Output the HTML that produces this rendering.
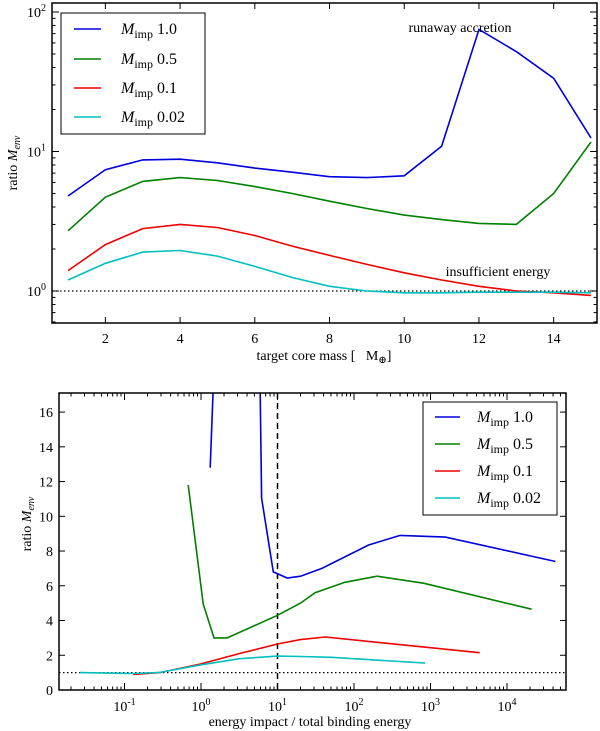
<!DOCTYPE html>
<html><head><meta charset="utf-8"><style>
html,body{margin:0;padding:0;background:#fff;}
svg{display:block;font-family:"Liberation Serif","DejaVu Serif",serif;}
</style></head><body>
<svg id="fig" width="600" height="731" viewBox="0 0 600 731" xmlns="http://www.w3.org/2000/svg"></svg>
<script>
// ---- Top chart data ----
const coreMass = [1,2,3,4,5,6,7,8,9,10,11,12,13,14,15];
const topBlue  = [4.8,7.4,8.7,8.8,8.3,7.6,7.1,6.6,6.5,6.7,10.9,75,52,33.5,12.5];
const topGreen = [2.7,4.7,6.1,6.5,6.2,5.6,5.0,4.4,3.9,3.5,3.25,3.05,3.0,5.0,11.7];
const topRed   = [1.4,2.15,2.8,3.0,2.85,2.5,2.1,1.8,1.55,1.35,1.2,1.08,1.0,0.97,0.93];
const topCyan  = [1.2,1.58,1.9,1.95,1.78,1.5,1.25,1.08,1.0,0.97,0.97,0.98,0.98,0.98,0.97];
const topXTicks = [2,4,6,8,10,12,14];
// ---- Bottom chart data ----
const blueSeg1E = [1.32,1.45];
const blueSeg1V = [12.8,17.5];
const blueE = [5.9,6.2,8.8,13.4,20,38,155,400,1560,43000];
const blueV = [18,11.05,6.8,6.45,6.55,7.0,8.35,8.9,8.8,7.4];
const greenE = [0.68,1.07,1.48,2.2,10,20,31,76,200,810,21000];
const greenV = [11.8,4.95,3.0,3.0,4.3,5.0,5.6,6.2,6.55,6.15,4.65];
const redE = [0.13,0.29,1,3.2,10,20,42,4400];
const redV = [0.9,1.0,1.5,2.1,2.65,2.9,3.05,2.15];
const cyanE = [0.026,0.13,0.28,1,3.2,10,20,50,850];
const cyanV = [1.0,0.95,1.0,1.45,1.8,1.95,1.93,1.88,1.55];
const botYTicks = [0,2,4,6,8,10,12,14,16];
const botXExps = [-1,0,1,2,3,4];
const legendLabels = ["1.0","0.5","0.1","0.02"];
const colors = ["#0000dd","#008000","#ee0000","#00bfbf"];

const NS="http://www.w3.org/2000/svg";
const svg=document.getElementById('fig');
function el(tag,attrs,parent){const e=document.createElementNS(NS,tag);for(const k in attrs)e.setAttribute(k,attrs[k]);(parent||svg).appendChild(e);return e;}

const T={l:52,r:597,t:3,b:323};
const tx=v=>68+(v-1)*37.36;
const ty=v=>291-Math.log10(v)*139.5;
const B={l:59,r:566,t:393,b:690};
const bx=e=>201+Math.log10(e)*76.5;
const by=v=>690-v*17.37;

function clip(id,A){const c=el('clipPath',{id:id});el('rect',{x:A.l,y:A.t,width:A.r-A.l,height:A.b-A.t},c);}
clip('ct',T);clip('cb',B);

function poly(xs,ys,fx,fy,col,clipId,name){
  const p=el('polyline',{points:xs.map((x,i)=>fx(x).toFixed(1)+','+fy(ys[i]).toFixed(1)).join(' '),fill:'none',stroke:col,'stroke-width':1.6,'clip-path':'url(#'+clipId+')'});
  
  
}
function line(x1,y1,x2,y2,extra){return el('line',Object.assign({x1,y1,x2,y2,stroke:'#000','stroke-width':1},extra||{}));}
function text(x,y,s,extra){const t=el('text',Object.assign({x,y,'font-size':14,fill:'#000'},extra||{}));t.textContent=s;return t;}

// ---- top chart ----
line(T.l,ty(1),T.r,ty(1),{'stroke-dasharray':'1.5,2.5','stroke-width':1.2});
poly(coreMass,topBlue,tx,ty,colors[0],'ct','top-series-mimp-1.0');
poly(coreMass,topGreen,tx,ty,colors[1],'ct','top-series-mimp-0.5');
poly(coreMass,topRed,tx,ty,colors[2],'ct','top-series-mimp-0.1');
poly(coreMass,topCyan,tx,ty,colors[3],'ct','top-series-mimp-0.02');
topXTicks.forEach(v=>{const x=tx(v);line(x,T.b,x,T.b-6);line(x,T.t,x,T.t+6);
  const t=text(x,343,String(v),{'text-anchor':'middle'});});
for(let d=-1;d<=2;d++){for(let m=1;m<10;m++){const v=m*Math.pow(10,d);const y=ty(v);if(y<T.t||y>T.b)continue;
  const L=m===1?7:3.5;line(T.l,y,T.l+L,y);line(T.r,y,T.r-L,y);
  if(m===1){const t=el('text',{x:T.l-6,y:y+5,'font-size':14,'text-anchor':'end'});t.innerHTML='10<tspan dy="-6" font-size="10">'+d+'</tspan>';}}}
el('rect',{x:T.l,y:T.t,width:T.r-T.l,height:T.b-T.t,fill:'none',stroke:'#000','stroke-width':1.5});
let a=text(460,32,'runaway accretion',{'text-anchor':'middle'});
a=text(498,276,'insufficient energy',{'text-anchor':'middle'});
a=el('text',{x:0,y:0,'font-size':14,'text-anchor':'middle',transform:'translate(17,163) rotate(-90)'});a.innerHTML='ratio <tspan font-style="italic">M</tspan><tspan font-style="italic" font-size="10" dy="3">env</tspan>';

a=el('text',{x:324,y:360,'font-size':14,'text-anchor':'middle'});a.innerHTML='target core mass [&#160;&#160;&#160;M<tspan font-size="10" dy="3">⊕</tspan><tspan dy="-3">]</tspan>';

function legend(x0,y0,w,h,ys,lx1,lx2,tx0,prefix){
  const r=el('rect',{x:x0,y:y0,width:w,height:h,fill:'#fff',stroke:'#000','stroke-width':1});
  
  legendLabels.forEach((lab,i)=>{
    const g=el('g',{});
    
    
    el('line',{x1:lx1,y1:ys[i],x2:lx2,y2:ys[i],stroke:colors[i],'stroke-width':1.6},g);
    const t=el('text',{x:tx0,y:ys[i]+5,'font-size':16},g);
    t.innerHTML='<tspan font-style="italic">M</tspan><tspan font-size="12" dy="4">imp</tspan><tspan dy="-4"> '+lab+'</tspan>';
  });
}
legend(61,13,144,121,[29,59,88,117],74,101,121,'top');

// ---- bottom chart ----
line(B.l,by(1),B.r,by(1),{'stroke-dasharray':'1.5,2.5','stroke-width':1.2});
line(bx(10),B.t,bx(10),B.b,{'stroke-dasharray':'6,4','stroke-width':1.5});
poly(blueSeg1E,blueSeg1V,bx,by,colors[0],'cb','bottom-series-mimp-1.0-branch');
poly(blueE,blueV,bx,by,colors[0],'cb','bottom-series-mimp-1.0');
poly(greenE,greenV,bx,by,colors[1],'cb','bottom-series-mimp-0.5');
poly(redE,redV,bx,by,colors[2],'cb','bottom-series-mimp-0.1');
poly(cyanE,cyanV,bx,by,colors[3],'cb','bottom-series-mimp-0.02');
botYTicks.forEach(v=>{const y=by(v);line(B.l,y,B.l+6,y);line(B.r,y,B.r-6,y);
  const t=text(B.l-6,y+5,String(v),{'text-anchor':'end'});});
for(let d=-2;d<=4;d++){for(let m=1;m<10;m++){const x=bx(m*Math.pow(10,d));if(x<B.l||x>B.r)continue;
  const L=m===1?7:3.5;line(x,B.b,x,B.b-L);line(x,B.t,x,B.t+L);}}
botXExps.forEach(d=>{const t=el('text',{x:bx(Math.pow(10,d)),y:711,'font-size':14,'text-anchor':'middle'});
  t.innerHTML='10<tspan dy="-6" font-size="10">'+d+'</tspan>';
  });
el('rect',{x:B.l,y:B.t,width:B.r-B.l,height:B.b-B.t,fill:'none',stroke:'#000','stroke-width':1.5});
a=el('text',{x:0,y:0,'font-size':14,'text-anchor':'middle',transform:'translate(31,524) rotate(-90)'});a.innerHTML='ratio <tspan font-style="italic">M</tspan><tspan font-style="italic" font-size="10" dy="3">env</tspan>';

a=text(310,726,'energy impact / total binding energy',{'text-anchor':'middle'});

legend(423,402,134,113,[417,444,471,498],435,460,477,'bottom');
</script>
</body></html>
